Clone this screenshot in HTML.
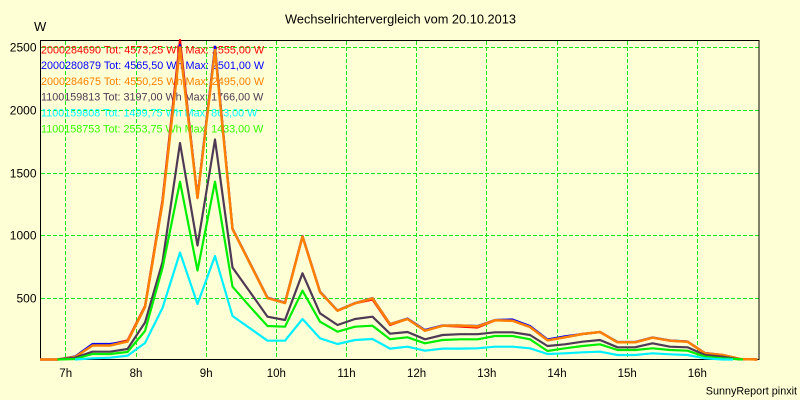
<!DOCTYPE html>
<html>
<head>
<meta charset="utf-8">
<style>
  html, body { margin: 0; padding: 0; background: #ffffd6; }
  svg { display: block; }
  text { font-family: "Liberation Sans", Arial, sans-serif; }
</style>
</head>
<body>
<svg width="800" height="400" viewBox="0 0 800 400" xmlns="http://www.w3.org/2000/svg">
  <rect x="0" y="0" width="800" height="400" fill="#ffffd6"/>

  <!-- Title -->
  <text x="400.5" y="23.5" font-size="12.8" text-anchor="middle" fill="#000">Wechselrichtervergleich vom 20.10.2013</text>
  <!-- Unit -->
  <text x="34" y="31" font-size="13" fill="#000">W</text>

  <!-- Grid -->
  <g stroke="#19e619" stroke-width="1" stroke-dasharray="4 2" shape-rendering="crispEdges" fill="none">
    <line x1="41" y1="47.5" x2="759" y2="47.5"/>
    <line x1="41" y1="110.5" x2="759" y2="110.5"/>
    <line x1="41" y1="173.5" x2="759" y2="173.5"/>
    <line x1="41" y1="235.5" x2="759" y2="235.5"/>
    <line x1="41" y1="298.5" x2="759" y2="298.5"/>
    <line x1="65.5" y1="41" x2="65.5" y2="359"/>
    <line x1="136.5" y1="41" x2="136.5" y2="359"/>
    <line x1="206.5" y1="41" x2="206.5" y2="359"/>
    <line x1="276.5" y1="41" x2="276.5" y2="359"/>
    <line x1="346.5" y1="41" x2="346.5" y2="359"/>
    <line x1="416.5" y1="41" x2="416.5" y2="359"/>
    <line x1="486.5" y1="41" x2="486.5" y2="359"/>
    <line x1="557.5" y1="41" x2="557.5" y2="359"/>
    <line x1="627.5" y1="41" x2="627.5" y2="359"/>
    <line x1="697.5" y1="41" x2="697.5" y2="359"/>
  </g>

  <!-- Frame -->
  <rect x="40.5" y="40.5" width="718.5" height="319" fill="none" stroke="#000" stroke-width="1" shape-rendering="crispEdges"/>

  <!-- Y labels -->
  <g font-size="12" text-anchor="end" fill="#000">
    <text x="36.5" y="51.5">2500</text>
    <text x="36.5" y="114.5">2000</text>
    <text x="36.5" y="177.5">1500</text>
    <text x="36.5" y="239.5">1000</text>
    <text x="36.5" y="302.5">500</text>
  </g>

  <!-- X labels -->
  <g font-size="11.5" text-anchor="middle" fill="#000">
    <text x="65.7" y="377">7h</text>
    <text x="136" y="377">8h</text>
    <text x="206.2" y="377">9h</text>
    <text x="276.3" y="377">10h</text>
    <text x="346.5" y="377">11h</text>
    <text x="416.6" y="377">12h</text>
    <text x="486.8" y="377">13h</text>
    <text x="557" y="377">14h</text>
    <text x="627.2" y="377">15h</text>
    <text x="697.3" y="377">16h</text>
  </g>

  <text x="797" y="394.5" font-size="10.8" text-anchor="end" fill="#000">SunnyReport pinxit</text>

  <!-- Legend -->
  <g font-size="10.8">
    <text x="41" y="53.3" fill="#ff0000">2000284690 Tot: 4573,25 Wh Max: 2555,00 W</text>
    <text x="41" y="69" fill="#0000ff">2000280879 Tot: 4565,50 Wh Max: 2501,00 W</text>
    <text x="41" y="85" fill="#ff8000">2000284675 Tot: 4550,25 Wh Max: 2495,00 W</text>
    <text x="41" y="100.7" fill="#4f3a55">1100159813 Tot: 3197,00 Wh Max: 1766,00 W</text>
    <text x="41" y="116.7" fill="#00ffff">1100159808 Tot: 1499,75 Wh Max: 863,00 W</text>
    <text x="41" y="132.3" fill="#33ff00">1100158753 Tot: 2553,75 Wh Max: 1433,00 W</text>
  </g>

  <!-- Series -->
  <g fill="none" stroke-width="2.2" stroke-linejoin="round" stroke-linecap="butt">
    <!-- red -->
    <polyline stroke="#ff0000" points="40,359.5 57.5,359.5 75,357 92.5,345.5 110,344.5 127.5,340.5 145,306 162.5,200 180,40 197.5,198 215,48.5 232.5,229 250,263.5 267.5,298 285,303 302.5,236.5 320,292 337.5,310.7 355,303.3 372.5,299.5 390,325 407.5,319 425,330.7 442.5,325.8 460,326.5 477.5,327.5 495,320.3 512.5,320.7 530,327 547.5,340.3 565,337.3 582.5,334 600,332 617.5,342.3 635,342.3 652.5,337.7 670,340.7 687.5,341.7 705,353.3 722.5,355 740,359 757.5,359.5"/>
    <!-- blue -->
    <polyline stroke="#0000ff" points="40,359.5 57.5,359.5 75,356.5 92.5,344 110,344 127.5,341.5 145,307 162.5,202 180,45 197.5,197 215,46.6 232.5,228.5 250,263 267.5,297.5 285,302.5 302.5,236 320,291.5 337.5,310.5 355,303 372.5,298 390,324 407.5,318.5 425,330 442.5,325.5 460,325.5 477.5,326 495,320 512.5,319.5 530,326 547.5,339.5 565,336.3 582.5,334 600,332 617.5,342 635,342 652.5,337.5 670,340.5 687.5,341.5 705,353 722.5,355 740,359 757.5,359.5"/>
    <!-- orange -->
    <polyline stroke="#ff8000" stroke-width="2.5" points="40,359.5 57.5,359.5 75,357 92.5,345.5 110,345.5 127.5,341.5 145,307 162.5,203 180,47.4 197.5,198 215,50 232.5,229 250,263.5 267.5,298 285,303 302.5,236.5 320,292 337.5,310.7 355,303.3 372.5,298.3 390,324.2 407.5,319 425,330.7 442.5,325.8 460,325.5 477.5,326.4 495,320.3 512.5,320.7 530,327 547.5,340.3 565,337.3 582.5,334 600,332 617.5,342.3 635,342.3 652.5,337.7 670,340.7 687.5,341.7 705,353.3 722.5,355 740,359 757.5,359.5"/>
    <!-- dark -->
    <polyline stroke="#4f3a55" points="57.5,359.5 75,357.7 92.5,351.7 110,351.7 127.5,349 145,322.5 162.5,262 180,143 197.5,245.5 215,139.5 232.5,267.5 250,292 267.5,316.7 285,320 302.5,273.3 320,313.3 337.5,325 355,319 372.5,316.7 390,333.7 407.5,332 425,339.3 442.5,335 460,334.2 477.5,334.2 495,332.3 512.5,332.3 530,335 547.5,346 565,344.3 582.5,341.7 600,340 617.5,347.3 635,347.3 652.5,343.3 670,346.7 687.5,347.3 705,355 722.5,356.7 740,359.5"/>
    <!-- green -->
    <polyline stroke="#00ee00" points="57.5,359.5 75,359 92.5,354 110,354 127.5,352 145,331 162.5,268 180,181.7 197.5,270.5 215,181.7 232.5,286.7 250,306.7 267.5,326 285,326.7 302.5,290.7 320,321.7 337.5,331.7 355,326.7 372.5,325.7 390,339.2 407.5,337.3 425,343.3 442.5,340 460,339.3 477.5,339.3 495,336 512.5,336 530,339.3 547.5,351 565,348.3 582.5,346 600,344.3 617.5,350 635,350 652.5,348.3 670,350 687.5,350.7 705,356.7 722.5,358.3 743,359.5"/>
    <!-- cyan -->
    <polyline stroke="#00f0ff" points="75,359.5 92.5,358.3 110,357.7 127.5,355.7 145,343 162.5,308 180,252.5 197.5,304 215,256 232.5,316 250,328.3 267.5,340.7 285,340.7 302.5,319 320,338.3 337.5,344 355,340 372.5,339 390,348.6 407.5,346.7 425,350.7 442.5,348.6 460,348.6 477.5,348.3 495,346.7 512.5,346.7 530,348.3 547.5,354 565,353.3 582.5,352.3 600,351.7 617.5,355 635,355 652.5,353.3 670,354.3 687.5,355 705,358.3 722.5,359.5 733,359.5"/>
  </g>
</svg>
</body>
</html>
